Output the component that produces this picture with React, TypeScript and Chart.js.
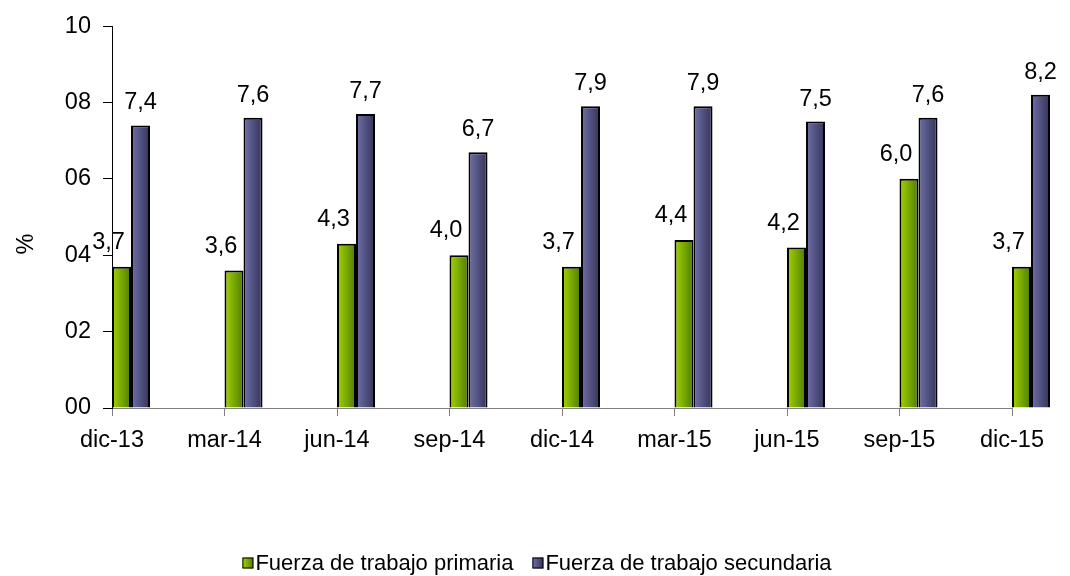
import React, { useEffect, useRef } from 'react';
import { Chart, registerables } from 'chart.js';

Chart.register(...registerables);

const categories = ['dic-13', 'mar-14', 'jun-14', 'sep-14', 'dic-14', 'mar-15', 'jun-15', 'sep-15', 'dic-15'];
const primaria = [3.7, 3.6, 4.3, 4.0, 3.7, 4.4, 4.2, 6.0, 3.7];
const secundaria = [7.4, 7.6, 7.7, 6.7, 7.9, 7.9, 7.5, 7.6, 8.2];
const seriesNames = ['Fuerza de trabajo primaria', 'Fuerza de trabajo secundaria'];
const yTitle = '%';
const yMin = 0;
const yMax = 10;
const yStep = 2;

const FONT = '"Liberation Sans", Arial, Helvetica, sans-serif';
const FS = 23.5;
const LEG_FS = 22;

const GREEN = ['#a2d400', '#4f7c00'];
const BLUE = ['#7070aa', '#333358'];

const fmt = (v: number) => v.toFixed(1).replace('.', ',');

function gradFill(light: string, dark: string) {
  return (ctx: any) => {
    const el = ctx.element;
    if (!el || typeof el.x !== 'number' || !isFinite(el.x) || !el.width) return light;
    const g = ctx.chart.ctx.createLinearGradient(el.x - el.width / 2, 0, el.x + el.width / 2, 0);
    g.addColorStop(0, light);
    g.addColorStop(1, dark);
    return g;
  };
}

const overlay = {
  id: 'overlay',
  afterDatasetsDraw(chart: any) {
    const c = chart.ctx;
    c.save();
    c.font = `${FS}px ${FONT}`;
    c.fillStyle = '#000';
    c.textAlign = 'center';
    c.textBaseline = 'alphabetic';
    [2, 3].forEach((di) => {
      const meta = chart.getDatasetMeta(di);
      const ds = chart.data.datasets[di];
      meta.data.forEach((el: any, i: number) => {
        const v = ds.data[i];
        if (v == null) return;
        const dx = di === 2 ? -13 : 0;
        const dy = di === 2 ? 18 : 16;
        c.fillText(fmt(v), el.x + dx, el.y - dy);
      });
    });
    c.restore();
  },
  afterDraw(chart: any) {
    const c = chart.ctx;
    c.save();
    // y-axis title
    c.font = `${FS}px ${FONT}`;
    c.fillStyle = '#000';
    c.translate(33, 244);
    c.rotate(-Math.PI / 2);
    c.textAlign = 'center';
    c.textBaseline = 'alphabetic';
    c.fillText(yTitle, 0, 0);
    c.restore();

    // legend
    c.save();
    c.font = `${LEG_FS}px ${FONT}`;
    const box = 11;
    const gapText = 2;
    const gapItem = 19;
    const fills = [GREEN, BLUE];
    const widths = seriesNames.map((s) => box + gapText + c.measureText(s).width);
    const total = widths.reduce((a, b) => a + b, 0) + gapItem * (seriesNames.length - 1);
    let x = 537 - total / 2;
    const cy = 563;
    seriesNames.forEach((s, i) => {
      const g = c.createLinearGradient(x, 0, x + box, 0);
      g.addColorStop(0, fills[i][0]);
      g.addColorStop(1, fills[i][1]);
      c.fillStyle = g;
      c.fillRect(x, cy - box / 2, box, box);
      c.strokeStyle = '#000';
      c.lineWidth = 1;
      c.strokeRect(x + 0.5, cy - box / 2 + 0.5, box - 1, box - 1);
      c.fillStyle = '#000';
      c.textAlign = 'left';
      c.textBaseline = 'middle';
      c.fillText(s, x + box + gapText, cy + 1);
      x += widths[i] + gapItem;
    });
    c.restore();
  },
};

export default function App() {
  const ref = useRef<HTMLCanvasElement | null>(null);

  useEffect(() => {
    if (!ref.current) return;
    const empty = categories.map(() => null);
    const chart = new Chart(ref.current, {
      type: 'bar',
      data: {
        labels: categories,
        datasets: [
          { label: '', data: empty as any, clip: false as any },
          { label: '', data: empty as any, clip: false as any },
          {
            label: seriesNames[0],
            data: primaria,
            backgroundColor: gradFill(GREEN[0], GREEN[1]) as any,
            borderColor: '#000',
            borderWidth: 2,
            clip: false as any,
          },
          {
            label: seriesNames[1],
            data: secundaria,
            backgroundColor: gradFill(BLUE[0], BLUE[1]) as any,
            borderColor: '#000',
            borderWidth: 2,
            clip: false as any,
          },
        ],
      },
      options: {
        responsive: false,
        animation: false,
        events: [],
        datasets: {
          bar: {
            categoryPercentage: 0.676,
            barPercentage: 1,
          },
        },
        layout: { padding: { top: 24, right: 58, bottom: 0, left: 0 } },
        plugins: {
          legend: { display: false },
          tooltip: { enabled: false },
        },
        scales: {
          x: {
            type: 'category',
            offset: false,
            grid: {
              offset: false,
              drawOnChartArea: false,
              drawTicks: true,
              tickLength: 8,
              color: '#808080',
            },
            border: { display: true, color: '#808080', width: 1 },
            ticks: {
              font: { family: FONT, size: FS },
              color: '#000',
              padding: 10,
              maxRotation: 0,
              autoSkip: false,
            },
            afterFit: (scale: any) => {
              scale.height = 168;
            },
          },
          y: {
            min: yMin,
            max: yMax,
            grid: {
              drawOnChartArea: false,
              drawTicks: true,
              tickLength: 9,
              color: '#000',
            },
            border: { display: true, color: '#000', width: 1 },
            ticks: {
              stepSize: yStep,
              font: { family: FONT, size: FS },
              color: '#000',
              padding: 12,
              callback: (v: any) => String(v).padStart(2, '0'),
            },
            afterFit: (scale: any) => {
              scale.width = 112;
            },
          },
        },
      },
      plugins: [overlay],
    });
    chart.update();
    return () => chart.destroy();
  }, []);

  return (
    <div style={{ position: 'absolute', left: 0, top: 0, width: 1070, height: 576, background: '#fff' }}>
      <canvas ref={ref} width={1070} height={576} style={{ width: 1070, height: 576, display: 'block' }} />
    </div>
  );
}
